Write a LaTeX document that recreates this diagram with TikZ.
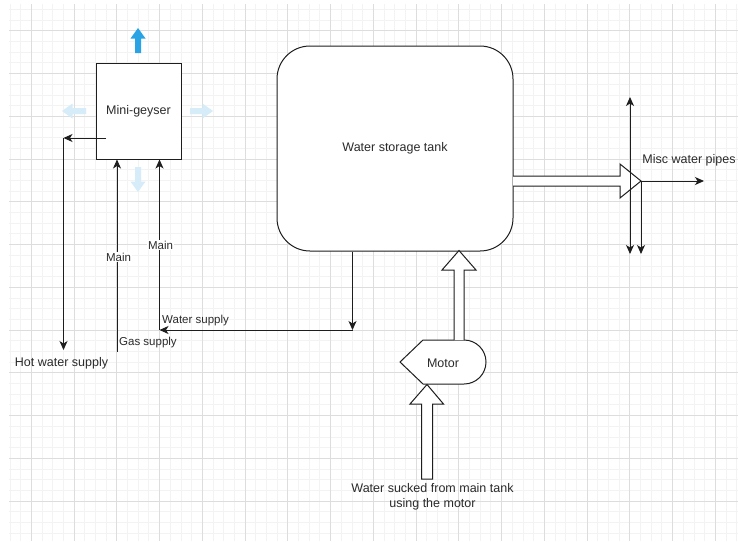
\documentclass[tikz,border=0pt]{standalone}
\usepackage{fontspec}
\setmainfont{Liberation Sans}
\usetikzlibrary{arrows.meta}
\definecolor{ink}{HTML}{1E1E1E}
\definecolor{txt}{HTML}{2B2B2B}
\definecolor{gridmajor}{HTML}{DDDDDD}
\definecolor{gridminor}{HTML}{F3F3F3}
\definecolor{hoverblue}{HTML}{29A3E3}
\definecolor{hoverfade}{HTML}{D6ECF8}
\tikzset{
  minorgrid/.style={draw=gridminor, line width=0.8pt},
  majorgrid/.style={draw=gridmajor, line width=0.9pt},
  shapebox/.style={draw=ink, line width=1pt, fill=white, text=txt, font=\fontsize{12.5}{15}\selectfont, inner sep=0pt},
  blockarrow/.style={draw=ink, line width=1pt, fill=white, line join=miter},
  pipe/.style={draw=ink, line width=1pt, -{Stealth[length=9pt,width=8pt,inset=2.5pt]}},
  biglabel/.style={text=txt, font=\fontsize{12.5}{15}\selectfont, inner sep=0pt},
  edgelabel/.style={text=txt, font=\fontsize{11.5}{13}\selectfont, inner sep=1pt},
}
\begin{document}
\begin{tikzpicture}[x=1pt,y=-1pt]
\useasboundingbox (0,0) rectangle (738,541);
\fill[white] (0,0) rectangle (738,541);
% grid
\foreach \i in {0,...,68} \draw[minorgrid] ({9.925+10.6875*\i},4) -- ({9.925+10.6875*\i},541);
\foreach \j in {0,...,49} \draw[minorgrid] (9,{9.4+10.6875*\j}) -- (738,{9.4+10.6875*\j});
\foreach \i in {0,...,16} \draw[majorgrid] ({31.3+42.75*\i},4) -- ({31.3+42.75*\i},541);
\foreach \j in {0,...,11} \draw[majorgrid] (9,{30.8+42.75*\j}) -- (738,{30.8+42.75*\j});

% hover arrows around the mini-geyser
\fill[hoverblue] (138,28) -- (145.5,38.5) -- (141,38.5) -- (141,53) -- (135,53) -- (135,38.5) -- (130.5,38.5) -- cycle;
\fill[hoverfade] (138,192) -- (145.5,181.5) -- (141,181.5) -- (141,167) -- (135,167) -- (135,181.5) -- (130.5,181.5) -- cycle;
\fill[hoverfade] (62,111) -- (72.5,103.5) -- (72.5,108) -- (86,108) -- (86,114) -- (72.5,114) -- (72.5,118.5) -- cycle;
\fill[hoverfade] (213,111) -- (202.5,103.5) -- (202.5,108) -- (190,108) -- (190,114) -- (202.5,114) -- (202.5,118.5) -- cycle;

% main shapes
\node[shapebox, minimum width=85pt, minimum height=96pt] (geyser) at (138.5,111) {Mini-geyser};
\node[shapebox, rounded corners=33pt, minimum width=236pt, minimum height=205pt] (tank) at (395,148.5) {Water storage tank};

% motor
\draw[blockarrow] (400,362) -- (423,340) -- (464,340) arc[start angle=90, end angle=-90, radius=22pt] -- (423,384) -- cycle;
\node[biglabel] (motor) at (443,363) {Motor};

% block arrows
\draw[blockarrow] (454,340) -- (454,270) -- (442,270) -- (459,250.5) -- (476,270) -- (464,270) -- (464,340);
\draw[blockarrow] (421.5,479) -- (421.5,404) -- (410,404) -- (427,384.5) -- (443.5,404) -- (432.5,404) -- (432.5,479) -- cycle;
\draw[blockarrow] (513,176) -- (620,176) -- (620,164) -- (641,181) -- (620,198) -- (620,186) -- (513,186);

% right-hand pipes
\coordinate (tip) at (641,181);
\coordinate (pjoin) at (630,181);
\coordinate (pright) at (704,181);
\coordinate (pup) at (630,97);
\coordinate (pdownA) at (630,254);
\coordinate (pdownB) at (641,254);
\draw[pipe] (tip) -- (pright);
\draw[pipe] (pjoin) -- (pup);
\draw[pipe] (pjoin) -- (pdownA);
\draw[pipe] (tip) -- (pdownB);
\node[biglabel] (misc) at (689,160) {Misc water pipes};

% hot water supply
\coordinate (hwstart) at (106,138);
\coordinate (hwcorner) at (63.5,138);
\coordinate (hwend) at (63.5,350);
\draw[pipe] (hwstart) -- (hwcorner);
\draw[pipe] (hwcorner) -- (hwend);
\node[biglabel] (hot) at (61.5,363) {Hot water supply};

% gas supply
\coordinate (gasstart) at (117,352);
\draw[pipe] (gasstart) -- (geyser.south -| gasstart);
\node[edgelabel, fill=white] (mainA) at (118.5,257) {Main};
\node[edgelabel, anchor=west] (gas) at (118,343) {Gas supply};

% water supply
\coordinate (wscorner) at (352.5,330);
\coordinate (wsend) at (159.5,330);
\draw[pipe] (tank.south -| wscorner) -- (wscorner);
\draw[pipe] (wscorner) -- (wsend);
\draw[pipe] (wsend) -- (geyser.south -| wsend);
\node[edgelabel, fill=white] (mainB) at (160.5,245) {Main};
\node[edgelabel, anchor=west] (wsl) at (161,321) {Water supply};

% bottom caption
\node[biglabel, align=center] (caption) at (432.5,496.5) {Water sucked from main tank\\using the motor};
\end{tikzpicture}
\end{document}
